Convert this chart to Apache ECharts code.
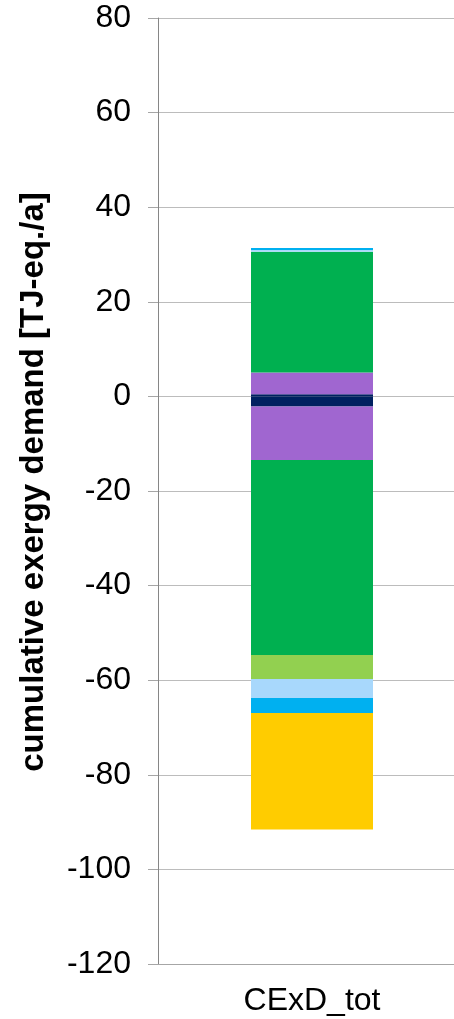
<!DOCTYPE html>
<html>
<head>
<meta charset="utf-8">
<script src="https://cdn.jsdelivr.net/npm/echarts@6/dist/echarts.min.js"></script>
<style>
  html, body { margin: 0; padding: 0; background: #fff; overflow: hidden; }
  /* plot area runs past the right edge of the window, like the original */
  #main { width: 466px; height: 1019px; }
</style>
</head>
<body>
<div id="main"></div>
<script>
// categories and tick labels
var categories = ['CExD_tot'];
var yTicks = [-120, -100, -80, -60, -40, -20, 0, 20, 40, 60, 80];

// stack segments, from zero outward (values in TJ-eq./a)
var segNames  = ['s1', 's2', 's3', 's4', 's5', 's6', 's7'];
var posValues = [0.46, 4.6, 25.5, 0, 0.4, 0.4, 0];
var negValues = [-2.16, -11.3, -41.2, -5.1, -4.0, -3.2, -24.6];

// fill colours, same order as segNames
var palette = ['#002060', '#a066d0', '#00b050', '#92d050', '#a8d8fc', '#00b0f0', '#ffcc00'];

var chart = echarts.init(document.getElementById('main'));

var series = [];
segNames.forEach(function (name, i) {
    series.push({
        name: name + '+', type: 'bar', stack: 'tot', barWidth: 122,
        itemStyle: { color: palette[i] },
        data: [posValues[i]]
    });
    series.push({
        name: name + '-', type: 'bar', stack: 'tot', barWidth: 122,
        itemStyle: { color: palette[i] },
        data: [negValues[i]]
    });
});

var option = {
    animation: false,
    backgroundColor: '#fff',
    grid: { left: 158, right: 0, top: 18, bottom: 55, containLabel: false },
    xAxis: {
        type: 'category',
        data: categories,
        axisLine: { onZero: false, lineStyle: { color: '#a6a6a6', width: 1 } },
        axisTick: { show: false },
        axisLabel: { color: '#000', fontSize: 32, fontFamily: 'Liberation Sans, Arial', margin: 21 }
    },
    yAxis: {
        type: 'value',
        min: yTicks[0],
        max: yTicks[yTicks.length - 1],
        interval: 20,
        axisLine: { show: true, lineStyle: { color: '#868686', width: 1 } },
        axisTick: { show: true, length: 10, lineStyle: { color: '#a6a6a6' } },
        splitLine: { show: true, lineStyle: { color: '#bcbcbc', width: 1 } },
        axisLabel: { color: '#000', fontSize: 32, fontFamily: 'Liberation Sans, Arial', margin: 27 }
    },
    graphic: [{
        type: 'text',
        x: 34, y: 482,
        rotation: Math.PI / 2,
        style: {
            text: 'cumulative exergy demand [TJ-eq./a]',
            font: 'bold 33px "Liberation Sans", Arial',
            fill: '#000',
            textAlign: 'center',
            textVerticalAlign: 'middle'
        }
    }],
    series: series
};

chart.setOption(option);
</script>
</body>
</html>
